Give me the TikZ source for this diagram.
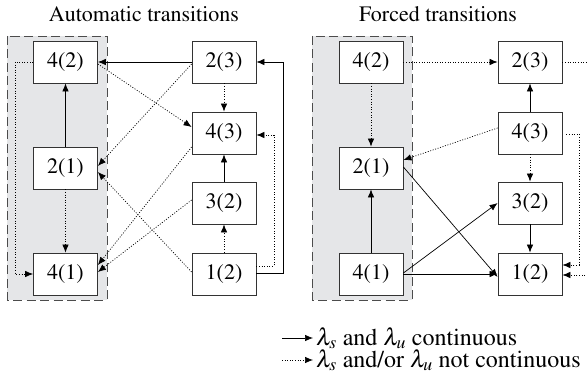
\documentclass[tikz,border=0pt]{standalone}
\usepackage[T1]{fontenc}
\usepackage{mathptmx}
\usetikzlibrary{arrows.meta,calc}
\definecolor{panelgray}{RGB}{229,230,232}
\newcommand\lamsub[1]{$\lambda_{#1}$}
\begin{document}
\begin{tikzpicture}[x=1pt,y=-1pt,
  box/.style={draw=black!80, line width=0.8pt, fill=white, minimum width=64pt, minimum height=42pt, inner sep=0pt, font=\fontsize{22}{24}\selectfont},
  sol/.style={line width=0.7pt, -{Latex[length=8pt,width=6.5pt]}},
  dot/.style={line width=0.7pt, dash pattern=on 1pt off 1.6pt, -{Latex[length=8pt,width=6.5pt]}},
  panel/.style={fill=panelgray, draw=black!70, dash pattern=on 9pt off 4.5pt, line width=0.8pt},
  ttl/.style={font=\fontsize{22}{24}\selectfont, inner sep=0pt},
  leg/.style={font=\fontsize{24}{22}\selectfont, inner sep=0pt, anchor=west, align=left}]
\useasboundingbox (0,0) rectangle (587,387);
\clip (0,0) rectangle (587,387);

% titles
\node[ttl] (t1) at (144,14) {Automatic transitions};
\node[ttl] (t2) at (438,14) {Forced transitions};

% panels
\path[panel] (7,36) rectangle (107,300);
\path[panel] (312,36) rectangle (412,300);

% left nodes
\node[box] (L42) at (65.5,62) {4(2)};
\node[box] (L21) at (65.5,168) {2(1)};
\node[box] (L41) at (65.5,274) {4(1)};
\node[box] (L23) at (224,62) {2(3)};
\node[box] (L43) at (224,133) {4(3)};
\node[box] (L32) at (224,203) {3(2)};
\node[box] (L12) at (224,274) {1(2)};

% right nodes
\node[box] (R42) at (371,62) {4(2)};
\node[box] (R21) at (371,168) {2(1)};
\node[box] (R41) at (371,274) {4(1)};
\node[box] (R23) at (530,62) {2(3)};
\node[box] (R43) at (530,133) {4(3)};
\node[box] (R32) at (530,203) {3(2)};
\node[box] (R12) at (530,274) {1(2)};

% left edges
\draw[sol] (L23.west) -- (L42.east);
\draw[dot] (L42.west) -- (15,62) -- (15,274) -- (L41.west);
\draw[sol] (L21.north) -- (L42.south);
\draw[dot] (L21.south) -- (L41.north);
\draw[dot] ($(L42.east)+(0,2)$) -- ($(L43.west)+(0,-6)$);
\draw[dot] ($(L23.west)+(0,2)$) -- ($(L21.east)+(0,-2)$);
\draw[dot] ($(L12.west)+(0,-2)$) -- ($(L21.east)+(0,4)$);
\draw[dot] ($(L43.west)+(0,14)$) -- ($(L41.east)+(0,-9)$);
\draw[dot] ($(L32.west)+(0,-3)$) -- ($(L41.east)+(0,-2)$);
\draw[dot] (L23.south) -- (L43.north);
\draw[sol] (L32.north) -- (L43.south);
\draw[dot] (L12.north) -- (L32.south);
\draw[dot] ($(L12.east)+(0,-8)$) -- (274,266) -- (274,135) -- ($(L43.east)+(0,2)$);
\draw[sol] ($(L12.east)+(0,-1)$) -- (283,273) -- (283,62) -- (L23.east);

% right edges
\draw[dot] (R42.east) -- (R23.west);
\draw[dot] (R42.south) -- (R21.north);
\draw[sol] (R41.north) -- (R21.south);
\draw[sol] (R43.north) -- (R23.south);
\draw[dot] ($(R43.west)+(0,-5)$) -- ($(R21.east)+(0,-8)$);
\draw[dot] (R43.south) -- (R32.north);
\draw[sol] (R32.south) -- (R12.north);
\draw[sol] ($(R21.east)+(0,-1)$) -- ($(R12.west)+(0,3)$);
\draw[sol] ($(R41.east)+(0,-1)$) -- (R32.west);
\draw[sol] (R41.east) -- (R12.west);
\draw[dot] ($(R43.east)+(4,1)$) -- (579,134) -- (579,265) -- ($(R12.east)+(0,-9)$);
\draw[dot] (R23.east) -- (596,62) -- (596,275) -- ($(R12.east)+(0,1)$);

% legend
\coordinate (ls1) at (282,338);
\coordinate (le1) at (313,338);
\coordinate (ls2) at (282,360);
\coordinate (le2) at (313,360);
\draw[sol] (ls1) -- (le1);
\draw[dot] (ls2) -- (le2);
\node[leg] (lt) at (316,349) {\lamsub{s} and \lamsub{u} continuous\\\lamsub{s} and/or \lamsub{u} not continuous};
\end{tikzpicture}
\end{document}
